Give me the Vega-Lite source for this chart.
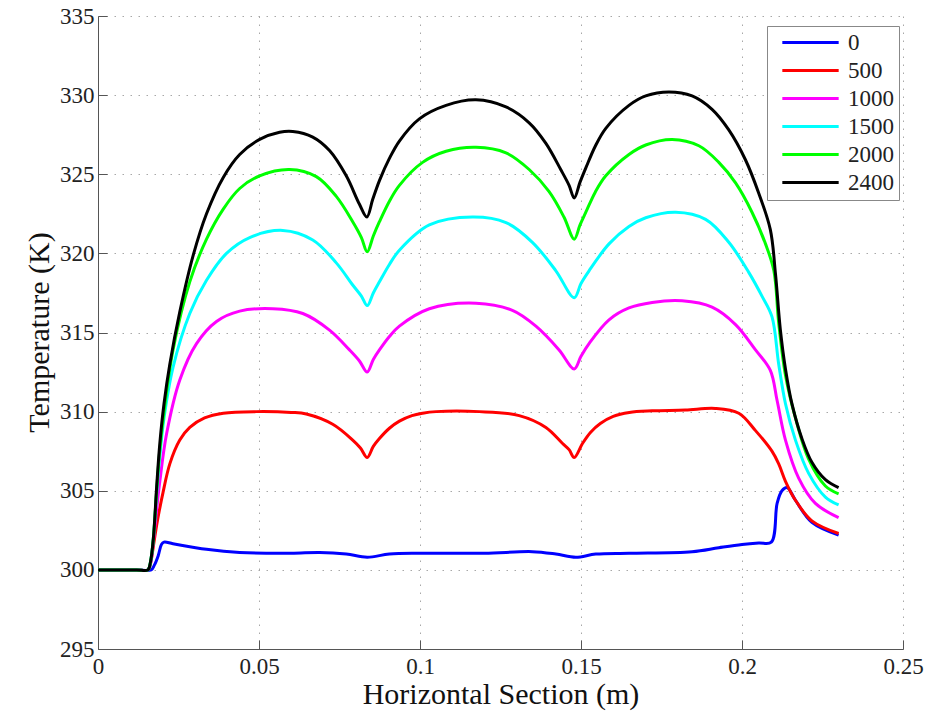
{
  "$schema": "https://vega.github.io/schema/vega-lite/v6.json",
  "width": 805,
  "height": 633,
  "autosize": {"type": "none"},
  "padding": {"left": 98, "top": 16, "right": 41, "bottom": 62},
  "background": "white",
  "config": {"view": {"stroke": null}, "font": "Liberation Serif"},
  "data": {"values": [
    {"s":"0","x":0,"T":300},{"s":"0","x":0.012,"T":300},{"s":"0","x":0.0165,"T":300},{"s":"0","x":0.0175,"T":300.3},{"s":"0","x":0.0187,"T":300.9},{"s":"0","x":0.0197,"T":301.6},{"s":"0","x":0.0205,"T":301.75},{"s":"0","x":0.0233,"T":301.65},{"s":"0","x":0.0337,"T":301.3},{"s":"0","x":0.044,"T":301.1},{"s":"0","x":0.06,"T":301.05},{"s":"0","x":0.0688,"T":301.1},{"s":"0","x":0.0771,"T":301.0},{"s":"0","x":0.0836,"T":300.8},{"s":"0","x":0.0905,"T":301.0},{"s":"0","x":0.1,"T":301.05},{"s":"0","x":0.12,"T":301.05},{"s":"0","x":0.1349,"T":301.15},{"s":"0","x":0.1422,"T":301.0},{"s":"0","x":0.1484,"T":300.8},{"s":"0","x":0.1546,"T":301.0},{"s":"0","x":0.1649,"T":301.05},{"s":"0","x":0.1845,"T":301.15},{"s":"0","x":0.1928,"T":301.4},{"s":"0","x":0.2,"T":301.6},{"s":"0","x":0.2052,"T":301.7},{"s":"0","x":0.2091,"T":301.75},{"s":"0","x":0.2109,"T":304.2},{"s":"0","x":0.2124,"T":305.0},{"s":"0","x":0.214,"T":305.2},{"s":"0","x":0.2166,"T":304.4},{"s":"0","x":0.2217,"T":303.0},{"s":"0","x":0.23,"T":302.2},

    {"s":"500","x":0,"T":300},{"s":"500","x":0.012,"T":300},{"s":"500","x":0.0155,"T":300},{"s":"500","x":0.0163,"T":300.4},{"s":"500","x":0.0172,"T":301.5},{"s":"500","x":0.0182,"T":302.8},{"s":"500","x":0.019,"T":303.7},{"s":"500","x":0.0202,"T":304.9},{"s":"500","x":0.0223,"T":306.7},{"s":"500","x":0.0254,"T":308.2},{"s":"500","x":0.0285,"T":309.0},{"s":"500","x":0.0331,"T":309.6},{"s":"500","x":0.0389,"T":309.9},{"s":"500","x":0.0492,"T":310.0},{"s":"500","x":0.06,"T":309.95},{"s":"500","x":0.0647,"T":309.85},{"s":"500","x":0.0729,"T":309.2},{"s":"500","x":0.0791,"T":308.2},{"s":"500","x":0.0815,"T":307.7},{"s":"500","x":0.0836,"T":307.1},{"s":"500","x":0.0855,"T":307.8},{"s":"500","x":0.0874,"T":308.3},{"s":"500","x":0.0905,"T":308.95},{"s":"500","x":0.0936,"T":309.4},{"s":"500","x":0.0975,"T":309.75},{"s":"500","x":0.1008,"T":309.9},{"s":"500","x":0.105,"T":310.0},{"s":"500","x":0.1184,"T":310.0},{"s":"500","x":0.1308,"T":309.75},{"s":"500","x":0.1391,"T":309.0},{"s":"500","x":0.1442,"T":308.0},{"s":"500","x":0.1463,"T":307.6},{"s":"500","x":0.1479,"T":307.1},{"s":"500","x":0.1505,"T":308.0},{"s":"500","x":0.153,"T":308.7},{"s":"500","x":0.156,"T":309.25},{"s":"500","x":0.16,"T":309.7},{"s":"500","x":0.165,"T":309.95},{"s":"500","x":0.1721,"T":310.05},{"s":"500","x":0.1824,"T":310.1},{"s":"500","x":0.1917,"T":310.2},{"s":"500","x":0.199,"T":309.9},{"s":"500","x":0.2042,"T":308.8},{"s":"500","x":0.2093,"T":307.5},{"s":"500","x":0.2114,"T":306.7},{"s":"500","x":0.2135,"T":305.6},{"s":"500","x":0.2166,"T":304.4},{"s":"500","x":0.2217,"T":303.1},{"s":"500","x":0.23,"T":302.3},

    {"s":"1000","x":0,"T":300},{"s":"1000","x":0.012,"T":300},{"s":"1000","x":0.0155,"T":300},{"s":"1000","x":0.0163,"T":300.4},{"s":"1000","x":0.0172,"T":301.8},{"s":"1000","x":0.0182,"T":303.8},{"s":"1000","x":0.0192,"T":305.6},{"s":"1000","x":0.0213,"T":308.6},{"s":"1000","x":0.0254,"T":312.0},{"s":"1000","x":0.0306,"T":314.3},{"s":"1000","x":0.0368,"T":315.7},{"s":"1000","x":0.044,"T":316.35},{"s":"1000","x":0.0543,"T":316.5},{"s":"1000","x":0.0636,"T":316.2},{"s":"1000","x":0.0719,"T":315.15},{"s":"1000","x":0.0781,"T":313.9},{"s":"1000","x":0.0812,"T":313.2},{"s":"1000","x":0.0836,"T":312.5},{"s":"1000","x":0.0855,"T":313.3},{"s":"1000","x":0.0874,"T":313.9},{"s":"1000","x":0.0905,"T":314.75},{"s":"1000","x":0.0936,"T":315.4},{"s":"1000","x":0.1029,"T":316.5},{"s":"1000","x":0.1174,"T":316.85},{"s":"1000","x":0.1287,"T":316.4},{"s":"1000","x":0.136,"T":315.4},{"s":"1000","x":0.1432,"T":313.9},{"s":"1000","x":0.1479,"T":312.7},{"s":"1000","x":0.15,"T":313.5},{"s":"1000","x":0.1525,"T":314.3},{"s":"1000","x":0.1587,"T":315.8},{"s":"1000","x":0.1649,"T":316.55},{"s":"1000","x":0.1721,"T":316.9},{"s":"1000","x":0.1814,"T":317.0},{"s":"1000","x":0.1907,"T":316.6},{"s":"1000","x":0.198,"T":315.5},{"s":"1000","x":0.2042,"T":313.9},{"s":"1000","x":0.2088,"T":312.6},{"s":"1000","x":0.2109,"T":310.7},{"s":"1000","x":0.2135,"T":308.2},{"s":"1000","x":0.2176,"T":305.8},{"s":"1000","x":0.2228,"T":304.2},{"s":"1000","x":0.23,"T":303.3},

    {"s":"1500","x":0,"T":300},{"s":"1500","x":0.012,"T":300},{"s":"1500","x":0.0155,"T":300},{"s":"1500","x":0.0163,"T":300.5},{"s":"1500","x":0.0172,"T":302.0},{"s":"1500","x":0.0182,"T":304.8},{"s":"1500","x":0.0192,"T":307.2},{"s":"1500","x":0.0205,"T":309.6},{"s":"1500","x":0.0233,"T":312.8},{"s":"1500","x":0.0285,"T":316.2},{"s":"1500","x":0.0337,"T":318.3},{"s":"1500","x":0.0399,"T":320.0},{"s":"1500","x":0.0471,"T":321.0},{"s":"1500","x":0.0574,"T":321.45},{"s":"1500","x":0.0667,"T":320.85},{"s":"1500","x":0.074,"T":319.4},{"s":"1500","x":0.0791,"T":318.0},{"s":"1500","x":0.0818,"T":317.3},{"s":"1500","x":0.0836,"T":316.7},{"s":"1500","x":0.0855,"T":317.5},{"s":"1500","x":0.0874,"T":318.2},{"s":"1500","x":0.0905,"T":319.3},{"s":"1500","x":0.0936,"T":320.2},{"s":"1500","x":0.1029,"T":321.8},{"s":"1500","x":0.1163,"T":322.3},{"s":"1500","x":0.1267,"T":321.95},{"s":"1500","x":0.1349,"T":320.7},{"s":"1500","x":0.1422,"T":318.9},{"s":"1500","x":0.1479,"T":317.2},{"s":"1500","x":0.15,"T":318.1},{"s":"1500","x":0.1525,"T":318.9},{"s":"1500","x":0.1587,"T":320.6},{"s":"1500","x":0.1649,"T":321.7},{"s":"1500","x":0.1701,"T":322.25},{"s":"1500","x":0.1794,"T":322.6},{"s":"1500","x":0.1887,"T":322.15},{"s":"1500","x":0.1959,"T":320.7},{"s":"1500","x":0.2021,"T":318.8},{"s":"1500","x":0.2062,"T":317.3},{"s":"1500","x":0.2093,"T":316.0},{"s":"1500","x":0.2114,"T":313.0},{"s":"1500","x":0.2135,"T":310.5},{"s":"1500","x":0.2166,"T":308.2},{"s":"1500","x":0.2207,"T":306.1},{"s":"1500","x":0.2259,"T":304.6},{"s":"1500","x":0.23,"T":304.1},

    {"s":"2000","x":0,"T":300},{"s":"2000","x":0.012,"T":300},{"s":"2000","x":0.0155,"T":300},{"s":"2000","x":0.0163,"T":300.5},{"s":"2000","x":0.0172,"T":302.0},{"s":"2000","x":0.0182,"T":305.0},{"s":"2000","x":0.0192,"T":307.6},{"s":"2000","x":0.0205,"T":310.0},{"s":"2000","x":0.0233,"T":313.9},{"s":"2000","x":0.0285,"T":318.2},{"s":"2000","x":0.0337,"T":320.9},{"s":"2000","x":0.0389,"T":322.8},{"s":"2000","x":0.044,"T":324.1},{"s":"2000","x":0.0502,"T":324.9},{"s":"2000","x":0.0595,"T":325.3},{"s":"2000","x":0.0678,"T":324.85},{"s":"2000","x":0.074,"T":323.6},{"s":"2000","x":0.0791,"T":322.0},{"s":"2000","x":0.0818,"T":321.0},{"s":"2000","x":0.0836,"T":320.1},{"s":"2000","x":0.0855,"T":321.1},{"s":"2000","x":0.0874,"T":322.0},{"s":"2000","x":0.0905,"T":323.3},{"s":"2000","x":0.0936,"T":324.3},{"s":"2000","x":0.1008,"T":325.75},{"s":"2000","x":0.1081,"T":326.45},{"s":"2000","x":0.1174,"T":326.7},{"s":"2000","x":0.1267,"T":326.35},{"s":"2000","x":0.1339,"T":325.3},{"s":"2000","x":0.1401,"T":323.9},{"s":"2000","x":0.1447,"T":322.3},{"s":"2000","x":0.1479,"T":320.9},{"s":"2000","x":0.1497,"T":321.8},{"s":"2000","x":0.1515,"T":322.6},{"s":"2000","x":0.1545,"T":323.9},{"s":"2000","x":0.1577,"T":324.9},{"s":"2000","x":0.1649,"T":326.25},{"s":"2000","x":0.1701,"T":326.85},{"s":"2000","x":0.1783,"T":327.2},{"s":"2000","x":0.1866,"T":326.8},{"s":"2000","x":0.1928,"T":325.75},{"s":"2000","x":0.198,"T":324.45},{"s":"2000","x":0.2031,"T":322.6},{"s":"2000","x":0.2073,"T":320.6},{"s":"2000","x":0.2099,"T":318.9},{"s":"2000","x":0.2114,"T":315.6},{"s":"2000","x":0.2135,"T":312.3},{"s":"2000","x":0.2166,"T":309.6},{"s":"2000","x":0.2207,"T":307.0},{"s":"2000","x":0.2259,"T":305.3},{"s":"2000","x":0.23,"T":304.8},

    {"s":"2400","x":0,"T":300},{"s":"2400","x":0.012,"T":300},{"s":"2400","x":0.0155,"T":300},{"s":"2400","x":0.0163,"T":300.5},{"s":"2400","x":0.0172,"T":302.0},{"s":"2400","x":0.0182,"T":305.2},{"s":"2400","x":0.0192,"T":308.0},{"s":"2400","x":0.0205,"T":310.5},{"s":"2400","x":0.0223,"T":313.0},{"s":"2400","x":0.0254,"T":316.3},{"s":"2400","x":0.0296,"T":319.9},{"s":"2400","x":0.0337,"T":322.5},{"s":"2400","x":0.0389,"T":324.8},{"s":"2400","x":0.044,"T":326.25},{"s":"2400","x":0.0502,"T":327.2},{"s":"2400","x":0.0564,"T":327.65},{"s":"2400","x":0.0605,"T":327.7},{"s":"2400","x":0.0667,"T":327.35},{"s":"2400","x":0.0719,"T":326.5},{"s":"2400","x":0.0771,"T":324.9},{"s":"2400","x":0.0812,"T":323.1},{"s":"2400","x":0.0835,"T":322.3},{"s":"2400","x":0.0853,"T":323.4},{"s":"2400","x":0.0874,"T":324.6},{"s":"2400","x":0.0905,"T":326.0},{"s":"2400","x":0.0936,"T":327.1},{"s":"2400","x":0.0998,"T":328.5},{"s":"2400","x":0.1081,"T":329.35},{"s":"2400","x":0.1174,"T":329.7},{"s":"2400","x":0.1267,"T":329.25},{"s":"2400","x":0.1339,"T":328.25},{"s":"2400","x":0.1391,"T":326.95},{"s":"2400","x":0.1437,"T":325.3},{"s":"2400","x":0.1463,"T":324.3},{"s":"2400","x":0.1479,"T":323.5},{"s":"2400","x":0.1497,"T":324.5},{"s":"2400","x":0.1515,"T":325.4},{"s":"2400","x":0.1545,"T":326.8},{"s":"2400","x":0.1577,"T":327.9},{"s":"2400","x":0.1649,"T":329.35},{"s":"2400","x":0.1701,"T":329.95},{"s":"2400","x":0.1773,"T":330.2},{"s":"2400","x":0.1845,"T":329.95},{"s":"2400","x":0.1907,"T":329.1},{"s":"2400","x":0.1959,"T":327.8},{"s":"2400","x":0.2011,"T":325.9},{"s":"2400","x":0.2052,"T":323.8},{"s":"2400","x":0.2088,"T":321.5},{"s":"2400","x":0.2104,"T":318.7},{"s":"2400","x":0.2119,"T":315.2},{"s":"2400","x":0.2135,"T":312.7},{"s":"2400","x":0.2155,"T":310.5},{"s":"2400","x":0.2186,"T":308.3},{"s":"2400","x":0.2217,"T":306.8},{"s":"2400","x":0.2259,"T":305.7},{"s":"2400","x":0.23,"T":305.2}
  ]},
  "mark": {"type": "line", "strokeWidth": 3, "interpolate": "catmull-rom"},
  "encoding": {
    "x": {
      "field": "x", "type": "quantitative",
      "scale": {"domain": [0, 0.25], "nice": false, "zero": false},
      "axis": {
        "title": "Horizontal Section (m)",
        "values": [0, 0.05, 0.1, 0.15, 0.2, 0.25],
        "format": "~g",
        "labelFlush": false,
        "labelFontSize": 23, "labelColor": "#222", "labelFont": "Liberation Serif",
        "labelPadding": 15,
        "tickSize": -9, "tickColor": "#555",
        "domainColor": "#555",
        "grid": true, "gridDash": [1.5, 6.5], "gridColor": "#a8a8a8", "gridWidth": 1,
        "titleFont": "Liberation Serif", "titleFontSize": 30, "titleFontWeight": "normal", "titleColor": "#111",
        "titleBaseline": "alphabetic", "titleY": 54
      }
    },
    "y": {
      "field": "T", "type": "quantitative",
      "scale": {"domain": [295, 335], "nice": false, "zero": false},
      "axis": {
        "title": "Temperature (K)",
        "values": [295, 300, 305, 310, 315, 320, 325, 330, 335],
        "format": "d",
        "labelFontSize": 23, "labelColor": "#222", "labelFont": "Liberation Serif",
        "labelPadding": 13,
        "tickSize": -9, "tickColor": "#555",
        "domainColor": "#555",
        "grid": true, "gridDash": [1.5, 6.5], "gridColor": "#a8a8a8", "gridWidth": 1,
        "titleFont": "Liberation Serif", "titleFontSize": 30, "titleFontWeight": "normal", "titleColor": "#111",
        "titleBaseline": "alphabetic", "titleAngle": -90, "titleX": -50, "titleY": 316
      }
    },
    "color": {
      "field": "s", "type": "nominal",
      "scale": {
        "domain": ["0", "500", "1000", "1500", "2000", "2400"],
        "range": ["#0000ff", "#ff0000", "#ff00ff", "#00ffff", "#00ff00", "#000000"]
      },
      "legend": {
        "title": null,
        "orient": "none", "legendX": 669, "legendY": 10,
        "direction": "vertical",
        "symbolType": "M-5,0H5", "symbolSize": 127, "symbolStrokeWidth": 3,
        "symbolFillColor": "transparent",
        "symbolOffset": 27, "labelOffset": 26,
        "labelFontSize": 23, "labelFont": "Liberation Serif", "labelColor": "#222",
        "padding": 5, "rowPadding": 4,
        "strokeColor": "#888", "fillColor": "white"
      }
    }
  }
}
